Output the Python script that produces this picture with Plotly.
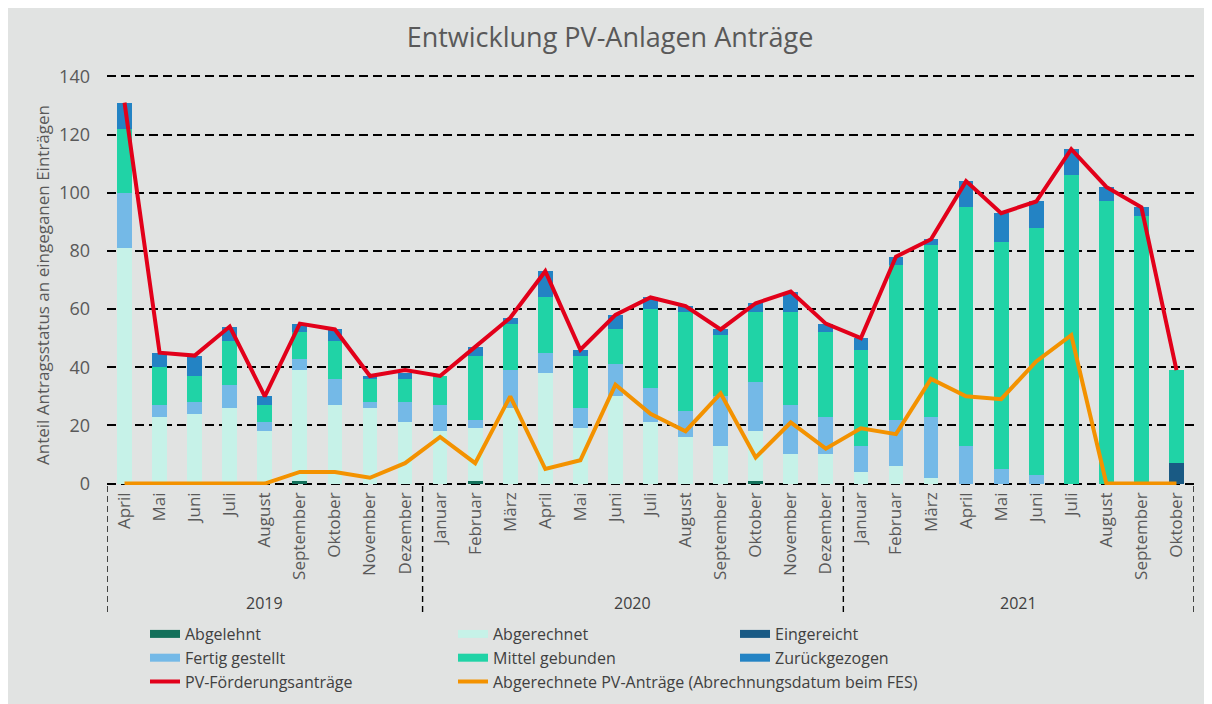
import plotly.graph_objects as go

# ---------------- data ----------------
years = ["2019"] * 9 + ["2020"] * 12 + ["2021"] * 10
months = (["April", "Mai", "Juni", "Juli", "August", "September", "Oktober", "November", "Dezember"]
          + ["Januar", "Februar", "März", "April", "Mai", "Juni", "Juli", "August", "September",
             "Oktober", "November", "Dezember"]
          + ["Januar", "Februar", "März", "April", "Mai", "Juni", "Juli", "August", "September", "Oktober"])

abgelehnt = [0, 0, 0, 0, 0, 1, 0, 0, 0,
             0, 1, 0, 0, 0, 0, 0, 0, 0, 1, 0, 0,
             0, 0, 0, 0, 0, 0, 0, 0, 0, 0]
abgerechnet = [81, 23, 24, 26, 18, 38, 27, 26, 21,
               18, 18, 26, 38, 19, 30, 21, 16, 13, 17, 10, 10,
               4, 6, 2, 0, 0, 0, 0, 0, 0, 0]
eingereicht = [0, 0, 0, 0, 0, 0, 0, 0, 0,
               0, 0, 0, 0, 0, 0, 0, 0, 0, 0, 0, 0,
               0, 0, 0, 0, 0, 0, 0, 0, 0, 7]
fertig = [19, 4, 4, 8, 3, 4, 9, 2, 7,
          9, 3, 13, 7, 7, 11, 12, 9, 17, 17, 17, 13,
          9, 16, 21, 13, 5, 3, 0, 0, 0, 0]
mittel = [22, 13, 9, 15, 6, 9, 13, 8, 8,
          10, 22, 16, 19, 18, 12, 27, 34, 21, 24, 32, 29,
          33, 53, 59, 82, 78, 85, 106, 97, 92, 32]
zurueck = [9, 5, 7, 5, 3, 3, 4, 1, 2,
           0, 3, 2, 9, 2, 5, 4, 2, 2, 3, 7, 3,
           4, 3, 2, 9, 10, 9, 9, 5, 3, 0]
pv_antraege = [131, 45, 44, 54, 30, 55, 53, 37, 39,
               37, 47, 57, 73, 46, 58, 64, 61, 53, 62, 66, 55,
               50, 78, 84, 104, 93, 97, 115, 102, 95, 39]
abgerechnete_pv = [0, 0, 0, 0, 0, 4, 4, 2, 7,
                   16, 7, 30, 5, 8, 34, 24, 18, 31, 9, 21, 12,
                   19, 17, 36, 30, 29, 42, 51, 0, 0, 0]

y_ticks = [0, 20, 40, 60, 80, 100, 120, 140]

# ---------------- styling ----------------
BG = "#e1e3e2"
TXT = "#595959"
FONT = "Open Sans"
W, H = 1212, 704
ML, MR, MT, MB = 99, 26, 67, 227
PH = H - MT - MB
PW = W - ML - MR
BOTTOM = MT + PH  # pixel row of the bottom of the plotting area


def py(pix):
    """figure pixel row -> paper fraction"""
    return (BOTTOM - pix) / PH


bar_series = [
    ("Abgelehnt", abgelehnt, "#13705a", "legend"),
    ("Abgerechnet", abgerechnet, "#c6f2e8", "legend2"),
    ("Eingereicht", eingereicht, "#195a84", "legend3"),
    ("Fertig gestellt", fertig, "#74b9e7", "legend"),
    ("Mittel gebunden", mittel, "#20d3a6", "legend2"),
    ("Zurückgezogen", zurueck, "#2383c4", "legend3"),
]
line_series = [
    ("PV-Förderungsanträge", pv_antraege, "#e2001a", "legend"),
    ("Abgerechnete PV-Anträge (Abrechnungsdatum beim FES)", abgerechnete_pv, "#f39200", "legend2"),
]

x = list(range(len(months)))
fig = go.Figure()

for name, vals, color, lg in bar_series:
    fig.add_trace(go.Bar(x=x, y=vals, name=name, marker=dict(color=color, line=dict(width=0)),
                         showlegend=False))
    # legend proxy (wide rectangular swatch like the original)
    fig.add_trace(go.Scatter(x=[None], y=[None], mode="lines", name=name,
                             line=dict(color=color, width=8), legend=lg))

for name, vals, color, lg in line_series:
    fig.add_trace(go.Scatter(x=x, y=vals, name=name, mode="lines",
                             line=dict(color=color, width=4), legend=lg))

# year groups: labels and dashed dividers derived from the data
year_names = []
for yv in years:
    if yv not in year_names:
        year_names.append(yv)
annotations = []
shapes = []
bounds = [-0.5]
for yn in year_names:
    idx = [i for i, yv in enumerate(years) if yv == yn]
    annotations.append(dict(x=sum(idx) / len(idx), y=py(595), xref="x", yref="paper",
                            text=yn, showarrow=False, yanchor="middle",
                            font=dict(family=FONT, size=16, color="#404040")))
    bounds.append(idx[-1] + 0.5)
for b in bounds:
    shapes.append(dict(type="line", xref="x", yref="paper", x0=b, x1=b, y0=py(478),
                       y1=py(604), line=dict(color="black", width=1.4, dash="6px,4px")))

# y axis title
annotations.append(dict(text="Anteil Antragsstatus an eingeganen Einträgen", textangle=-90,
                        xref="paper", yref="paper", x=(34 - ML) / PW, y=py(277),
                        xanchor="center", yanchor="middle", showarrow=False,
                        font=dict(family=FONT, size=17, color=TXT)))

legend_common = dict(orientation="v", yanchor="top", xanchor="left", bgcolor="rgba(0,0,0,0)",
                     font=dict(family=FONT, size=16, color="#404040"), tracegroupgap=0,
                     itemwidth=30, traceorder="normal", xref="container", yref="container")
leg_y = 1 - 609 / H

fig.update_layout(
    width=W, height=H,
    barmode="stack", bargap=0.58,
    paper_bgcolor=BG, plot_bgcolor=BG,
    margin=dict(l=ML, r=MR, t=MT, b=MB, autoexpand=False),
    title=dict(text="Entwicklung PV-Anlagen Anträge", x=(610 - 8) / W, xanchor="center",
               y=1 - 30 / H, yanchor="middle", font=dict(family=FONT, size=27, color=TXT)),
    xaxis=dict(range=[-0.5, len(months) - 0.5], tickmode="array", tickvals=x, ticktext=months,
               tickangle=-90, showgrid=False, zeroline=False, showline=False, ticks="",
               automargin=False, ticklabelstandoff=3,
               tickfont=dict(family=FONT, size=17, color=TXT)),
    yaxis=dict(range=[-0.5, 140.5], tickmode="array", tickvals=y_ticks, showgrid=True,
               gridcolor="black", gridwidth=1.7, griddash="9px,5px", zeroline=False,
               showline=False, ticks="", ticklabelstandoff=16, automargin=False,
               tickfont=dict(family=FONT, size=18, color=TXT)),
    legend=dict(x=137 / W, y=leg_y, **legend_common),
    legend2=dict(x=445 / W, y=leg_y, **legend_common),
    legend3=dict(x=727 / W, y=leg_y, **legend_common),
    annotations=annotations,
    shapes=shapes,
    showlegend=True,
)

fig.write_html("out.html")
